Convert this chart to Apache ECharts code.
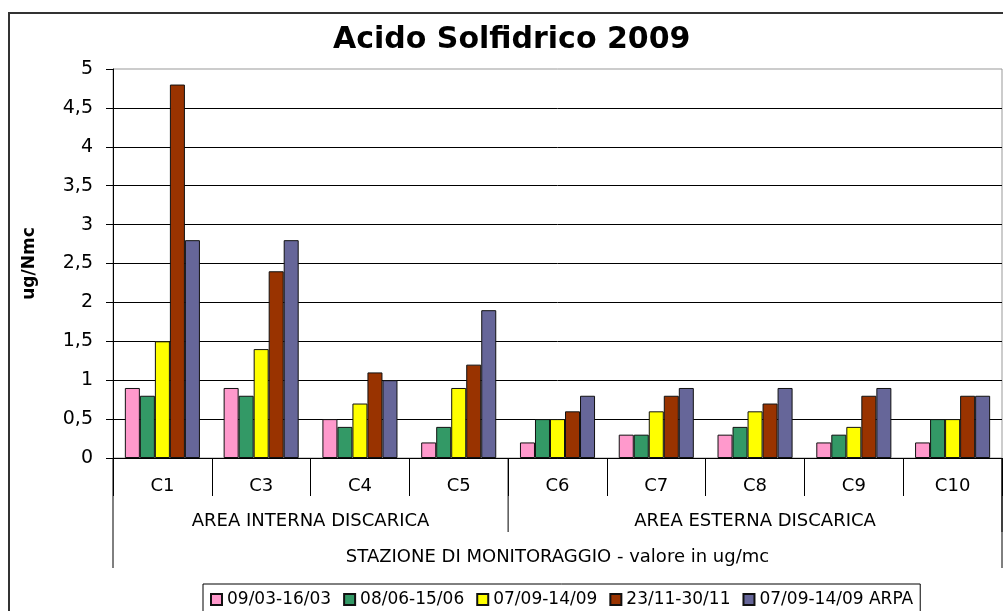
<!DOCTYPE html>
<html>
<head>
<meta charset="utf-8">
<script src="https://cdn.jsdelivr.net/npm/echarts@6/dist/echarts.min.js"></script>
<style>
html,body{margin:0;padding:0;background:#fff;}
#chart{width:1003px;height:611px;}
</style>
</head>
<body>
<div id="chart"></div>
<script>
const titleText = 'Acido Solfidrico 2009';
const yAxisTitle = 'ug/Nmc';
const xAxisTitle = 'STAZIONE DI MONITORAGGIO - valore in ug/mc';
const categories = ['C1', 'C3', 'C4', 'C5', 'C6', 'C7', 'C8', 'C9', 'C10'];
const seriesNames = ['09/03-16/03', '08/06-15/06', '07/09-14/09', '23/11-30/11', '07/09-14/09 ARPA'];
const seriesColors = ['#FF99CC', '#339966', '#FFFF00', '#993300', '#666699'];
const s0903 = [0.9, 0.9, 0.5, 0.2, 0.2, 0.3, 0.3, 0.2, 0.2];
const s0806 = [0.8, 0.8, 0.4, 0.4, 0.5, 0.3, 0.4, 0.3, 0.5];
const s0709 = [1.5, 1.4, 0.7, 0.9, 0.5, 0.6, 0.6, 0.4, 0.5];
const s2311 = [4.8, 2.4, 1.1, 1.2, 0.6, 0.8, 0.7, 0.8, 0.8];
const s0709arpa = [2.8, 2.8, 1.0, 1.9, 0.8, 0.9, 0.9, 0.9, 0.8];
const yMin = 0, yMax = 5, yStep = 0.5;
const groupLabels = ['AREA INTERNA DISCARICA', 'AREA ESTERNA DISCARICA'];
const groupFirst = [0, 4];
const groupLast = [3, 8];

const FONT = 'DejaVu Sans';
const seriesData = [s0903, s0806, s0709, s2311, s0709arpa];

const chart = echarts.init(document.getElementById('chart'), null, {renderer: 'canvas'});

const option = {
  backgroundColor: '#fff',
  animation: false,
  title: {
    text: titleText,
    left: 333,
    top: 25,
    padding: 0,
    textStyle: {fontFamily: FONT, fontSize: 30, fontWeight: 'bold', color: '#000'}
  },
  legend: {
    left: 203,
    top: 584,
    padding: [7, 7, 14, 7],
    itemGap: 12,
    itemWidth: 11,
    itemHeight: 11,
    borderColor: '#000',
    borderWidth: 1,
    icon: 'rect',
    textStyle: {fontFamily: FONT, fontSize: 17, color: '#000'},
    data: seriesNames
  },
  grid: {
    left: 113,
    right: 1,
    top: 69,
    bottom: 153,
    show: true,
    borderColor: '#999',
    borderWidth: 1,
    backgroundColor: 'transparent'
  },
  xAxis: {
    type: 'category',
    data: categories,
    boundaryGap: true,
    name: xAxisTitle,
    nameLocation: 'middle',
    nameGap: 90,
    nameTextStyle: {fontFamily: FONT, fontSize: 18, color: '#000'},
    axisLine: {show: true, lineStyle: {color: '#000', width: 1}},
    axisTick: {show: true, length: 38, interval: 0, lineStyle: {color: '#000'}},
    axisLabel: {fontFamily: FONT, fontSize: 18, color: '#000', margin: 19, interval: 0},
    splitLine: {show: false}
  },
  yAxis: {
    type: 'value',
    min: yMin,
    max: yMax,
    interval: yStep,
    name: yAxisTitle,
    nameLocation: 'middle',
    nameRotate: 90,
    nameGap: 75,
    nameTextStyle: {fontFamily: FONT, fontSize: 17, fontWeight: 'bold', color: '#000'},
    axisLine: {show: true, lineStyle: {color: '#000', width: 1}},
    axisTick: {show: true, length: 7, lineStyle: {color: '#000'}},
    axisLabel: {
      fontFamily: FONT, fontSize: 19, color: '#000', margin: 20,
      formatter: v => String(v).replace('.', ',')
    },
    splitLine: {show: true, showMaxLine: false, lineStyle: {color: '#000', width: 1}}
  },
  series: seriesNames.map((name, i) => ({
    name: name,
    type: 'bar',
    data: seriesData[i],
    barGap: '0%',
    barCategoryGap: '24%',
    itemStyle: {color: seriesColors[i], borderColor: '#111', borderWidth: 1}
  }))
};

chart.setOption(option);

// structural decorations: outer chart border, group labels and group separator lines
function drawGroups() {
  const c0 = chart.convertToPixel({xAxisIndex: 0}, categories[0]);
  const c1 = chart.convertToPixel({xAxisIndex: 0}, categories[1]);
  const band = c1 - c0;
  const base = chart.convertToPixel({yAxisIndex: 0}, 0);
  const graphics = [{
    type: 'rect',
    shape: {x: 9, y: 13, width: 1200, height: 800},
    style: {fill: 'none', stroke: '#333', lineWidth: 2},
    z: -1,
    silent: true
  }];
  const xLeft = chart.convertToPixel({xAxisIndex: 0}, categories[0]) - band / 2;
  const xRight = chart.convertToPixel({xAxisIndex: 0}, categories[categories.length - 1]) + band / 2;
  graphics.push({
    type: 'line',
    shape: {x1: xLeft, y1: base, x2: xLeft, y2: base + 110},
    style: {stroke: '#000', lineWidth: 1}
  });
  graphics.push({
    type: 'line',
    shape: {x1: xRight, y1: base, x2: xRight, y2: base + 110},
    style: {stroke: '#000', lineWidth: 1}
  });
  groupLabels.forEach((label, g) => {
    const a = chart.convertToPixel({xAxisIndex: 0}, categories[groupFirst[g]]) - band / 2;
    const b = chart.convertToPixel({xAxisIndex: 0}, categories[groupLast[g]]) + band / 2;
    graphics.push({
      type: 'line',
      shape: {x1: b, y1: base, x2: b, y2: base + 74},
      style: {stroke: '#000', lineWidth: 1}
    });
    graphics.push({
      type: 'text',
      x: (a + b) / 2,
      y: base + 63,
      style: {
        text: label,
        fontFamily: FONT,
        fontSize: 18,
        fill: '#000',
        align: 'center',
        verticalAlign: 'middle'
      }
    });
  });
  chart.setOption({graphic: graphics});
}
drawGroups();
</script>
</body>
</html>
